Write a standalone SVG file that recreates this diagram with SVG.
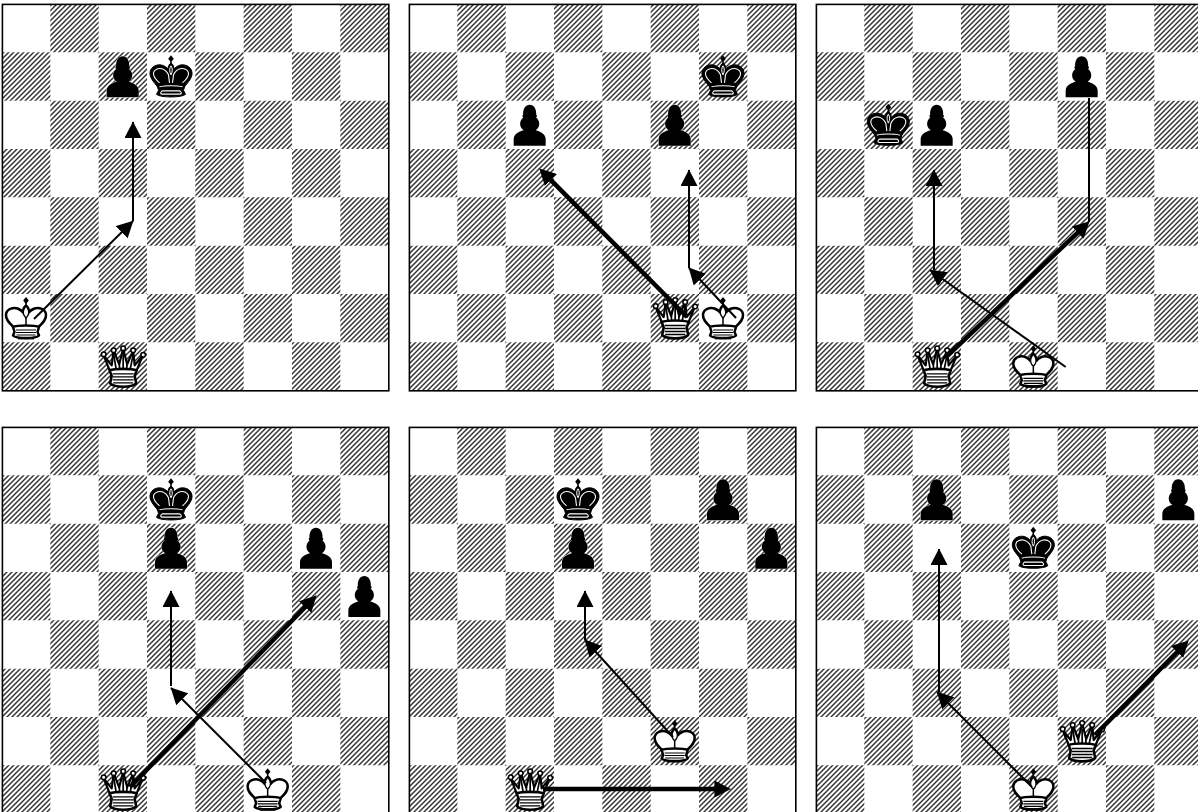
<svg xmlns="http://www.w3.org/2000/svg" width="1198" height="812" viewBox="0 0 1198 812">
<style>
.thin{fill:none;stroke:#000;stroke-width:2}
.thick{fill:none;stroke:#000;stroke-width:4.5}
</style>
<defs>
<pattern id="hatch" patternUnits="userSpaceOnUse" width="5" height="5">
<rect width="5" height="5" fill="#fff"/>
<path d="M-1 6L6 -1M-1 1L1 -1M4 6L6 4" stroke="#333" stroke-width="1.45" fill="none"/>
</pattern>
<marker id="hThin" markerUnits="userSpaceOnUse" markerWidth="17" markerHeight="17" refX="15" refY="8" orient="auto" viewBox="0 0 16 16"><path d="M0 0L15.500 8L0 16Z" fill="#000"/></marker>
<marker id="hThick" markerUnits="userSpaceOnUse" markerWidth="17" markerHeight="17" refX="9" refY="8" orient="auto" viewBox="0 0 16 16"><path d="M0 0L15.500 8L0 16Z" fill="#000"/></marker>
<g id="board">
<path fill="url(#hatch)" d="M48.33 0h48.33v48.33h-48.33zM145 0h48.33v48.33h-48.33zM241.67 0h48.33v48.33h-48.33zM338.33 0h48.33v48.33h-48.33zM0 48.33h48.33v48.33h-48.33zM96.67 48.33h48.33v48.33h-48.33zM193.33 48.33h48.33v48.33h-48.33zM290 48.33h48.33v48.33h-48.33zM48.33 96.67h48.33v48.33h-48.33zM145 96.67h48.33v48.33h-48.33zM241.67 96.67h48.33v48.33h-48.33zM338.33 96.67h48.33v48.33h-48.33zM0 145h48.33v48.33h-48.33zM96.67 145h48.33v48.33h-48.33zM193.33 145h48.33v48.33h-48.33zM290 145h48.33v48.33h-48.33zM48.33 193.33h48.33v48.33h-48.33zM145 193.33h48.33v48.33h-48.33zM241.67 193.33h48.33v48.33h-48.33zM338.33 193.33h48.33v48.33h-48.33zM0 241.67h48.33v48.33h-48.33zM96.67 241.67h48.33v48.33h-48.33zM193.33 241.67h48.33v48.33h-48.33zM290 241.67h48.33v48.33h-48.33zM48.33 290h48.33v48.33h-48.33zM145 290h48.33v48.33h-48.33zM241.67 290h48.33v48.33h-48.33zM338.33 290h48.33v48.33h-48.33zM0 338.33h48.33v48.33h-48.33zM96.67 338.33h48.33v48.33h-48.33zM193.33 338.33h48.33v48.33h-48.33zM290 338.33h48.33v48.33h-48.33z"/>
<rect x="0.4" y="0.4" width="386.4" height="386.4" fill="none" stroke="#000" stroke-width="1.6"/>
</g>
<g id="pawn">
<path fill="#000" stroke="#fff" stroke-width="0.8" paint-order="stroke" d="M8 45V38C8.500 33 13 31 18 29.500C15.500 28 14 25 14.500 22C15 19.500 16 18 17.500 17C16.500 15.500 16.500 14.500 17.500 14C17 8 20 4 24 4C28 4 31 8 30.500 14C31.500 14.500 31.500 15.500 30.500 17C32 18 33 19.500 33.500 22C34 25 32.500 28 30 29.500C35 31 39.500 33 40 38V45Z"/>
</g>
<g id="wking">
<path d="M24 3L26.800 6.500L24 10L21.200 6.500Z" fill="#000"/>
<path d="M24 9V14" stroke="#000" stroke-width="1.500"/>
<path d="M11.500 33C7 29 3.500 25.500 4 20.500C4.500 15 11 13 15.500 14.500C18 15.500 20 16.500 21 18.500C21 15 22 13 24 11.500C26 13 27 15 27 18.500C28 16.500 30 15.500 32.500 14.500C37 13 43.500 15 44 20.500C44.500 25.500 41 29 36.500 33Z" fill="#fff" stroke="#000" stroke-width="2.500" stroke-linejoin="round"/>
<path d="M24 12C21.500 15 21 18 21.500 20C22 22 23 23 24 24C25 23 26 22 26.500 20C27 18 26.500 15 24 12Z" fill="#fff" stroke="#000" stroke-width="1.300"/>
<path d="M24 24V33" stroke="#000" stroke-width="1.500"/>
<path d="M11 33C15 31 33 31 37 33L35.500 38L37 41.500C34 44.800 14 44.800 11 41.500L12.500 38Z" fill="#fff" stroke="#000" stroke-width="2.500" stroke-linejoin="round"/>
<path d="M14 36H34M14 38.500H34M14.500 41H33.500" stroke="#000" stroke-width="1.100" fill="none"/>
<path d="M16 44.500H32" stroke="#000" stroke-width="1.800"/>
</g>
<g id="bking">
<path d="M24 3L26.800 6.500L24 10L21.200 6.500Z" fill="#000"/>
<path d="M24 9V14" stroke="#000" stroke-width="1.500"/>
<path d="M11 35C6 29 2.500 25 3 20C4 13.500 11 11.500 15.500 13C18 14 20 15 21 17C21 14 22 12 24 10.500C26 12 27 14 27 17C28 15 30 14 32.500 13C37 11.500 44 13.500 45 20C45.500 25 42 29 37 35Z" fill="#000" stroke="#000" stroke-width="1" stroke-linejoin="round"/>
<path d="M12.500 30.500C8.500 27 6 24 6.500 20.500C7 17 11.500 15.500 15 16.500C18 17.500 20 19.500 21.500 22.500L22.500 30.500M35.500 30.500C39.500 27 42 24 41.500 20.500C41 17 36.500 15.500 33 16.500C30 17.500 28 19.500 26.500 22.500L25.500 30.500" fill="none" stroke="#fff" stroke-width="1.100"/>
<path d="M24 13.500C22.300 16 22.300 19 24 22.500C25.700 19 25.700 16 24 13.500Z" fill="none" stroke="#fff" stroke-width="1"/>
<path d="M10 33H38L36.500 38L38.500 42C35 45.500 13 45.500 9.500 42L11.500 38Z" fill="#000" stroke="#000" stroke-width="1" stroke-linejoin="round"/>
<path d="M12.500 34.500C18 33 30 33 35.500 34.500M15 38.500H33M15 38.500C13 40.500 13.500 41.500 15 41.800H33C34.500 41.500 35 40.500 33 38.500" fill="none" stroke="#fff" stroke-width="1.100"/>
</g>
<g id="wqueen">
<path d="M11 28L5 13L13 23L15 8L20.500 22L24.500 6.500L28.500 22L34.500 8L36 23L44 13L38 28Z" fill="#fff" stroke="#000" stroke-width="2.200" stroke-linejoin="round"/>
<path d="M15 12L17.500 27M20.500 20L21 27M24.500 12V27M28.500 20L28 27M34.500 12L31.500 27" stroke="#000" stroke-width="1.700" fill="none"/>
<circle cx="5" cy="12" r="2.300" fill="#fff" stroke="#000" stroke-width="1.600"/>
<circle cx="15" cy="8" r="2.300" fill="#fff" stroke="#000" stroke-width="1.600"/>
<circle cx="24.500" cy="6" r="2.300" fill="#fff" stroke="#000" stroke-width="1.600"/>
<circle cx="34.500" cy="8" r="2.300" fill="#fff" stroke="#000" stroke-width="1.600"/>
<circle cx="44.500" cy="12.500" r="2.300" fill="#fff" stroke="#000" stroke-width="1.600"/>
<path d="M11 28C16 26 33 26 38 28L36 33.500L37.500 41C33 45.500 16 45.500 11.500 41L13 33.500Z" fill="#fff" stroke="#000" stroke-width="2.600" stroke-linejoin="round"/>
<path d="M14 31.500H35M14 34.500H35M14 37.500H35M14.500 40.500H34.500" stroke="#000" stroke-width="1.300" fill="none"/>
</g>
</defs>
<rect width="1198" height="812" fill="#fff"/>
<g id="board1" transform="translate(2,4)">
<use href="#board"/>
<use href="#pawn" x="96.67" y="48.33"/><use href="#bking" x="145" y="48.33"/><use href="#wking" x="0" y="290"/><use href="#wqueen" x="96.67" y="338.33"/>
</g>
<g id="board2" transform="translate(409,4)">
<use href="#board"/>
<use href="#pawn" x="96.67" y="96.67"/><use href="#pawn" x="241.67" y="96.67"/><use href="#bking" x="290" y="48.33"/><use href="#wqueen" x="241.67" y="290"/><use href="#wking" x="290" y="290"/>
</g>
<g id="board3" transform="translate(816,4)">
<use href="#board"/>
<use href="#pawn" x="241.67" y="48.33"/><use href="#bking" x="48.33" y="96.67"/><use href="#pawn" x="96.67" y="96.67"/><use href="#wqueen" x="96.67" y="338.33"/><use href="#wking" x="193.33" y="338.33"/>
</g>
<g id="board4" transform="translate(2,427)">
<use href="#board"/>
<use href="#bking" x="145" y="48.33"/><use href="#pawn" x="145" y="96.67"/><use href="#pawn" x="290" y="96.67"/><use href="#pawn" x="338.33" y="145"/><use href="#wqueen" x="96.67" y="338.33"/><use href="#wking" x="241.67" y="338.33"/>
</g>
<g id="board5" transform="translate(409,427)">
<use href="#board"/>
<use href="#bking" x="145" y="48.33"/><use href="#pawn" x="290" y="48.33"/><use href="#pawn" x="145" y="96.67"/><use href="#pawn" x="338.33" y="96.67"/><use href="#wking" x="241.67" y="290"/><use href="#wqueen" x="96.67" y="338.33"/>
</g>
<g id="board6" transform="translate(816,427)">
<use href="#board"/>
<use href="#pawn" x="96.67" y="48.33"/><use href="#pawn" x="338.33" y="48.33"/><use href="#bking" x="193.33" y="96.67"/><use href="#wqueen" x="241.67" y="290"/><use href="#wking" x="193.33" y="338.33"/>
</g>
<g id="connectors">
<path class="thin" marker-end="url(#hThin)" d="M34 319L133 221"/>
<path class="thin" marker-end="url(#hThin)" d="M133 221V122"/>
<path class="thick" marker-end="url(#hThick)" d="M687 317L544.200 173.300"/>
<path class="thin" marker-end="url(#hThin)" d="M736 318L689 268"/>
<path class="thin" marker-end="url(#hThin)" d="M689 268V170"/>
<path class="thick" marker-end="url(#hThick)" d="M945 358L1084.600 226.100"/>
<path class="thin" d="M1089 222V98"/>
<path class="thin" marker-end="url(#hThin)" d="M1065.700 367L930 270"/>
<path class="thin" marker-end="url(#hThin)" d="M934 270V170"/>
<path class="thick" marker-end="url(#hThick)" d="M130 787L311.800 600.300"/>
<path class="thin" marker-end="url(#hThin)" d="M266 783L171 688"/>
<path class="thin" marker-end="url(#hThin)" d="M171 686V591"/>
<path class="thick" marker-end="url(#hThick)" d="M543 789H724"/>
<path class="thin" marker-end="url(#hThin)" d="M673 737L585 640"/>
<path class="thin" marker-end="url(#hThin)" d="M585 640V591"/>
<path class="thick" marker-end="url(#hThick)" d="M1095 735L1183.800 645.300"/>
<path class="thin" marker-end="url(#hThin)" d="M1032 787L937 692"/>
<path class="thin" marker-end="url(#hThin)" d="M939 692V549"/>
</g>
</svg>
